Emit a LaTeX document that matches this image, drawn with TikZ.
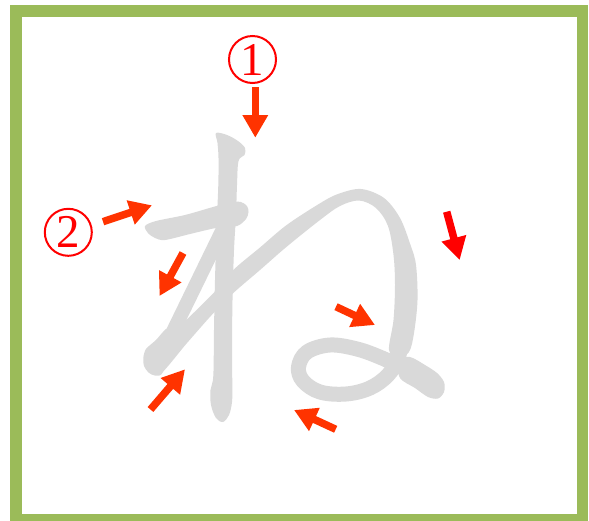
\documentclass[tikz,border=0pt]{standalone}
\usepackage{fontspec}
\newfontfamily\numfont{Liberation Serif}
\usetikzlibrary{arrows.meta}
\definecolor{frameg}{HTML}{9BBB59}
\definecolor{glyph}{HTML}{D9D9D9}
\definecolor{arrred}{HTML}{FF3300}
\definecolor{pured}{HTML}{FF0000}
\begin{document}
\begin{tikzpicture}[x=1pt,y=-1pt,
  blockarrow/.style={draw=arrred, line width=7.5pt, -{Triangle[length=22.5pt,width=24pt]}},
  ink/.style={fill=glyph},
  pen/.style={draw=glyph, line cap=round, line join=round},
  numcirc/.style={circle, draw=pured, text=pured, line width=2pt, minimum size=47pt,
    inner sep=0pt, font=\numfont\fontsize{47}{47}\selectfont}]
\useasboundingbox (0,0) rectangle (589,520);
\fill[white] (0,0) rectangle (589,520);
\draw[frameg, line width=11.7pt] (15.85,10.85) rectangle (582.5,519.85);

% stroke 1: vertical
\fill[ink] plot[smooth cycle, tension=0.55] coordinates {(216,133) (227,135) (238,141) (245,148) (244.5,155) (238.5,161) (237,185) (236,215) (234,250) (232.5,300) (232,350) (232.3,385) (232,402) (229,415) (223,422) (216,418) (211,405) (210.5,390) (213.3,376) (214,330) (215,280) (216.7,225) (218.3,185) (218.5,158) (217.5,143)};

% stroke 2: bar
\fill[ink] plot[smooth cycle, tension=0.5] coordinates {(145,226) (156,221) (185,215) (213,207) (232,202) (241,202) (247,206) (248.5,212) (246,219) (237,226) (216,228) (190,234) (165,240) (155,238) (148,233)};
% diagonal
\draw[pen, line width=14pt] (225.4,224) -- (163,352);
% corner
\fill[ink] plot[smooth cycle, tension=0.5] coordinates {(166,329) (156,340) (146,349) (143.3,358) (144,366) (148.5,372.5) (155,375.5) (163,372) (172,338) (172,330)};
% rising line, arch and descender
\fill[ink] plot[smooth cycle, tension=0.55] coordinates {(160,374) (187,343) (211.7,315) (233,293.3) (260,270) (286.7,246.7) (320,220) (340,206) (359,200.5) (376,208) (388,226) (393.5,255) (395,285) (393.5,320) (389,350) (398,358) (409,352) (414,333) (417.5,300) (416,265) (410.5,245) (400,218) (384,198) (361,189) (338,194) (320,203.3) (286.7,225) (260,247.5) (233.3,270) (213.3,293.3) (170,336.7) (162,352)};
% loop
\draw[pen, line width=15pt] plot[smooth, tension=0.6] coordinates {(403,335) (398,358) (388,375) (370,388) (346,394) (320,392) (303,381) (298.5,367) (307,352) (330,345) (357,349) (382,358) (405,369)};
% tail
\fill[ink] plot[smooth cycle, tension=0.5] coordinates {(398,360) (410,357) (425,365) (437,373) (444,382) (444,392) (438,398.5) (428,397) (415,388) (400,378)};

% numbers
\node[numcirc] (n1) at (252.5,59.5) {1};
\node[numcirc] (n2) at (68.3,232.3) {2};

% arrows
\coordinate (a1s) at (255.3,87.3);  \coordinate (a1e) at (255.3,137.7);
\coordinate (a2s) at (103,221.7);   \coordinate (a2e) at (152,205.3);
\coordinate (a3s) at (183,253);     \coordinate (a3e) at (159.5,296);
\coordinate (a4s) at (150.5,409.5); \coordinate (a4e) at (185,369.3);
\coordinate (a5s) at (446.7,211.7); \coordinate (a5e) at (459.7,260);
\coordinate (a6s) at (336,306.7);   \coordinate (a6e) at (375,325);
\coordinate (a7s) at (335.7,429.3); \coordinate (a7e) at (294,410);
\draw[blockarrow] (a1s) -- (a1e);
\draw[blockarrow] (a2s) -- (a2e);
\draw[blockarrow] (a3s) -- (a3e);
\draw[blockarrow] (a4s) -- (a4e);
\draw[blockarrow, draw=pured] (a5s) -- (a5e);
\draw[blockarrow] (a6s) -- (a6e);
\draw[blockarrow] (a7s) -- (a7e);
\end{tikzpicture}
\end{document}
